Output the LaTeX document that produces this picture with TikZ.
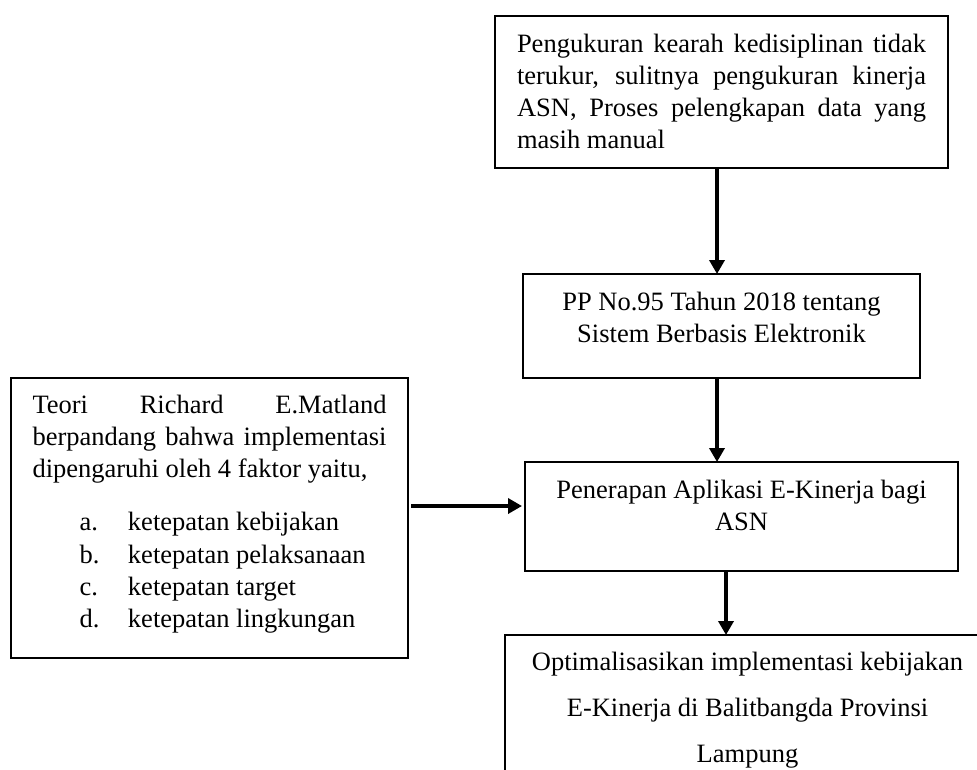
\documentclass[tikz,border=0pt]{standalone}
\usepackage{fontspec}
\setmainfont{Liberation Serif}
\usetikzlibrary{arrows.meta}
\hbadness=10000
\tolerance=10000
\hyphenpenalty=10000
\exhyphenpenalty=10000
\tikzset{
  box/.style={draw, line width=2.4pt, inner ysep=0pt, outer sep=0pt, anchor=north west,
    font=\fontsize{26.5}{32.3}\selectfont},
  arr/.style={line width=3.6pt, -{Triangle[length=14pt,width=15pt]}},
}
\begin{document}
\begin{tikzpicture}[x=1pt,y=-1pt]
\path[use as bounding box] (0,0) rectangle (977,769);
\clip (0,0) rectangle (977,769);
\node[box, inner xsep=22pt] (b1) at (495,16)
  {\parbox[c][152pt][t]{409pt}{\rule{0pt}{36pt}Pengukuran kearah kedisiplinan tidak\linebreak
   terukur, sulitnya pengukuran kinerja\linebreak ASN, Proses pelengkapan data yang\linebreak masih manual}};
\node[box, inner xsep=10pt] (b2) at (523,274)
  {\parbox[c][104pt][t]{377pt}{\centering\rule{0pt}{36pt}PP No.95 Tahun 2018 tentang\\ Sistem Berbasis Elektronik}};
\node[box, inner xsep=10pt] (b3) at (525,462)
  {\parbox[c][109pt][t]{413pt}{\centering\rule{0pt}{36pt}Penerapan Aplikasi E-Kinerja bagi\\ ASN}};
\node[box, inner xsep=10pt] (b4) at (505,635)
  {\parbox[c][200pt][t]{465pt}{\centering\baselineskip=46pt\rule{0pt}{35pt}Optimalisasikan implementasi kebijakan\\ E-Kinerja di Balitbangda Provinsi\\ Lampung}};
\node[box, inner xsep=21.5pt] (lb) at (11,378)
  {\parbox[c][280pt][t]{354pt}{\rule{0pt}{35pt}Teori Richard E.Matland\linebreak
   berpandang bahwa implementasi\linebreak dipengaruhi oleh 4 faktor yaitu,\par\vspace{21pt}%
   \hspace*{47pt}\makebox[48.5pt][l]{a.}ketepatan kebijakan\par
   \hspace*{47pt}\makebox[48.5pt][l]{b.}ketepatan pelaksanaan\par
   \hspace*{47pt}\makebox[48.5pt][l]{c.}ketepatan target\par
   \hspace*{47pt}\makebox[48.5pt][l]{d.}ketepatan lingkungan\par}};
\draw[arr] ([xshift=-4.5pt]b1.south) -- ([xshift=-4.5pt]b2.north);
\draw[arr] ([xshift=-4.5pt]b2.south) -- ([xshift=-24.5pt]b3.north);
\draw[arr] ([xshift=-15.5pt]b3.south) -- ([xshift=-21.5pt]b4.north);
\draw[arr] ([yshift=12pt,xshift=3pt]lb.east) -- ([yshift=10.5pt,xshift=-3pt]b3.west);
\end{tikzpicture}
\end{document}
